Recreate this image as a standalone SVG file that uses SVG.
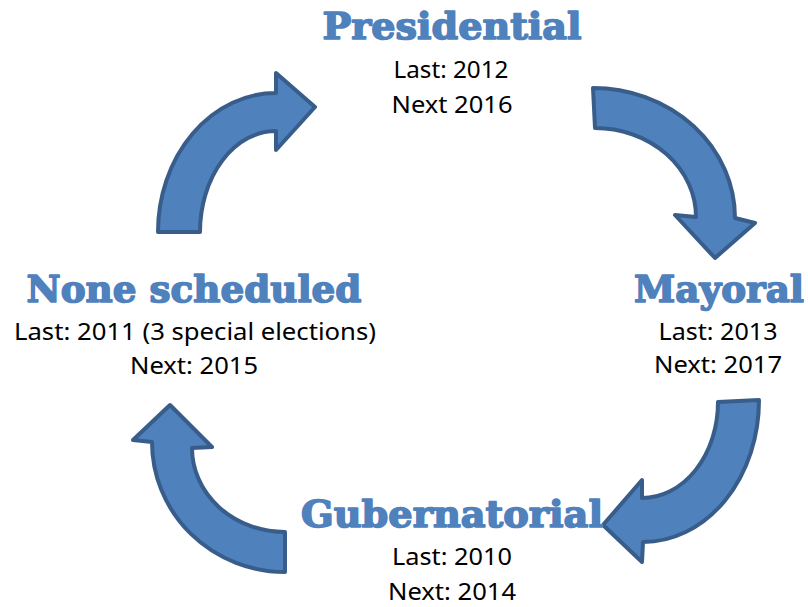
<svg xmlns="http://www.w3.org/2000/svg" width="808" height="607" viewBox="0 0 808 607">
<style>
.title{font-family:"DejaVu Serif","Liberation Serif",serif;font-weight:bold;font-size:37px;fill:#4F81BD;stroke:#4F81BD;stroke-width:1.6;stroke-linejoin:round;text-anchor:middle}
.body{font-family:"Noto Sans","Liberation Sans",sans-serif;font-size:24px;fill:#000;text-anchor:middle}
.arrow{fill:#4F81BD;stroke:#385D8A;stroke-width:4;stroke-linejoin:round}
</style>
<rect width="808" height="607" fill="#fff"/>
<g id="connectors">
<path class="arrow" d="M158,232 L200,232 A76,101 0 0 1 276,131 L276,150 L315,107 L276,73 L276,93 A118,139 0 0 0 158,232 Z"/>
<path class="arrow" d="M593,88 A142,130 0 0 1 735,218 L755,223 L715,258 L675,215 L696,217 A101,89 0 0 0 595,128 Z"/>
<path class="arrow" d="M759,400 A116,142 0 0 1 643,542 L642,562 L603,525 L642,480 L642,498 A76,96 0 0 0 718,402 Z"/>
<path class="arrow" d="M285,572 A133,130 0 0 1 152,442 L133,440 L170,405 L212,447 L192,448 A93,84 0 0 0 285,532 Z"/>
</g>
<g id="presidential">
<text class="title" x="452" y="39" textLength="259" lengthAdjust="spacingAndGlyphs">Presidential</text>
<text class="body" x="451" y="78" textLength="115" lengthAdjust="spacingAndGlyphs">Last: 2012</text>
<text class="body" x="452" y="113" textLength="121" lengthAdjust="spacingAndGlyphs">Next 2016</text>
</g>
<g id="mayoral">
<text class="title" x="719" y="302" textLength="170" lengthAdjust="spacingAndGlyphs">Mayoral</text>
<text class="body" x="718" y="340" textLength="119" lengthAdjust="spacingAndGlyphs">Last: 2013</text>
<text class="body" x="718" y="373" textLength="128" lengthAdjust="spacingAndGlyphs">Next: 2017</text>
</g>
<g id="gubernatorial">
<text class="title" x="452" y="527" textLength="302" lengthAdjust="spacingAndGlyphs">Gubernatorial</text>
<text class="body" x="452" y="565" textLength="120" lengthAdjust="spacingAndGlyphs">Last: 2010</text>
<text class="body" x="452" y="600" textLength="128" lengthAdjust="spacingAndGlyphs">Next: 2014</text>
</g>
<g id="none-scheduled">
<text class="title" x="194" y="302" textLength="335" lengthAdjust="spacingAndGlyphs">None scheduled</text>
<text class="body" x="195" y="340" textLength="362" lengthAdjust="spacingAndGlyphs">Last: 2011 (3 special elections)</text>
<text class="body" x="194" y="374" textLength="128" lengthAdjust="spacingAndGlyphs">Next: 2015</text>
</g>
</svg>
